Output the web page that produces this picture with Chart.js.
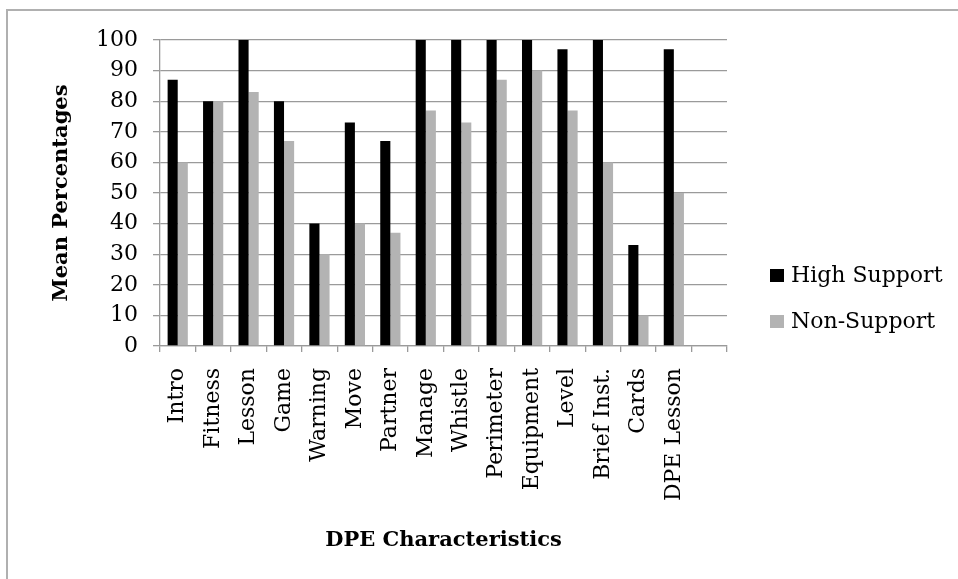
<!doctype html>
<html>
<head>
  <meta charset="utf-8" />
  <title>DPE Characteristics</title>
  <style>
    body { margin:0; background:#fff; font-family:"DejaVu Serif", serif; }
    #wrap { position:relative; width:958px; height:579px; overflow:hidden; }
    #chart { position:absolute; left:0; top:0; }
    .frameTop { position:absolute; left:6px; top:9px; width:952px; height:2px; background:#b0b0b0; }
    .frameLeft { position:absolute; left:6px; top:9px; width:2px; height:570px; background:#b0b0b0; }
    .leg { position:absolute; left:770px; font-size:22px; color:#000; white-space:nowrap; }
    .leg span { display:inline-block; width:14px; height:13px; margin-right:7px; vertical-align:0px; }
  </style>
  <script src="https://cdn.jsdelivr.net/npm/chart.js"></script>
</head>
<body>
<div id="wrap">
  <canvas id="chart" width="958" height="579"></canvas>
  <div class="frameTop"></div>
  <div class="frameLeft"></div>
  <div class="leg" id="leg0" style="top:262px;"><span></span><b style="font-weight:normal"></b></div>
  <div class="leg" id="leg1" style="top:308px;"><span></span><b style="font-weight:normal"></b></div>
</div>

<script>
// categories (last slot is empty, as in the original)
const categories = ['Intro','Fitness','Lesson','Game','Warning','Move','Partner','Manage',
  'Whistle','Perimeter','Equipment','Level','Brief Inst.','Cards','DPE Lesson',''];
const highSupport = [87, 80, 100, 80, 40, 73, 67, 100, 100, 100, 100, 97, 100, 33, 97, null];
const nonSupport  = [60, 80, 83, 67, 30, 40, 37, 77, 73, 87, 90, 77, 60, 10, 50, null];
const seriesNames = ['High Support', 'Non-Support'];
const seriesColors = ['#000000', '#b3b3b3'];
const yTicks = { min: 0, max: 100, step: 10 };

const gridGrey = '#9a9a9a';
const fontFam = '"DejaVu Serif", serif';

// html legend
seriesNames.forEach((n, i) => {
  const el = document.getElementById('leg' + i);
  el.querySelector('span').style.background = seriesColors[i];
  el.querySelector('b').textContent = n;
});

const ctx = document.getElementById('chart').getContext('2d');
new Chart(ctx, {
  type: 'bar',
  data: {
    labels: categories,
    datasets: [
      { label: seriesNames[0], data: highSupport, backgroundColor: seriesColors[0] },
      { label: seriesNames[1], data: nonSupport, backgroundColor: seriesColors[1] }
    ]
  },
  options: {
    responsive: false,
    animation: false,
    layout: { padding: { left: 10, right: 231, top: 40, bottom: 0 } },
    datasets: { bar: { categoryPercentage: 0.57, barPercentage: 1.0 } },
    plugins: { legend: { display: false }, tooltip: { enabled: false } },
    scales: {
      x: {
        afterFit: s => { s.height = 233; },
        grid: { offset: true, drawOnChartArea: false, drawTicks: true, tickLength: 6, color: gridGrey, lineWidth: 1.3 },
        border: { color: gridGrey, width: 1.3 },
        ticks: {
          minRotation: 90, maxRotation: 90, autoSkip: false, padding: 16,
          color: '#000', font: { family: fontFam, size: 22 }
        },
        title: {
          display: true, text: 'DPE Characteristics', color: '#000',
          font: { family: fontFam, size: 21, weight: 'bold' },
          padding: { top: 0, bottom: 26 }
        }
      },
      y: {
        min: yTicks.min, max: yTicks.max,
        afterFit: s => { s.width = 150; },
        grid: { color: gridGrey, tickLength: 7, drawTicks: true, lineWidth: 1.3 },
        border: { color: gridGrey, width: 1.3 },
        ticks: {
          stepSize: yTicks.step, padding: 15, color: '#000',
          font: { family: fontFam, size: 22 }
        },
        title: {
          display: true, text: 'Mean Percentages', color: '#000',
          font: { family: fontFam, size: 21, weight: 'bold' },
          padding: { top: 39, bottom: 0 }
        }
      }
    }
  }
});
</script>
</body>
</html>
